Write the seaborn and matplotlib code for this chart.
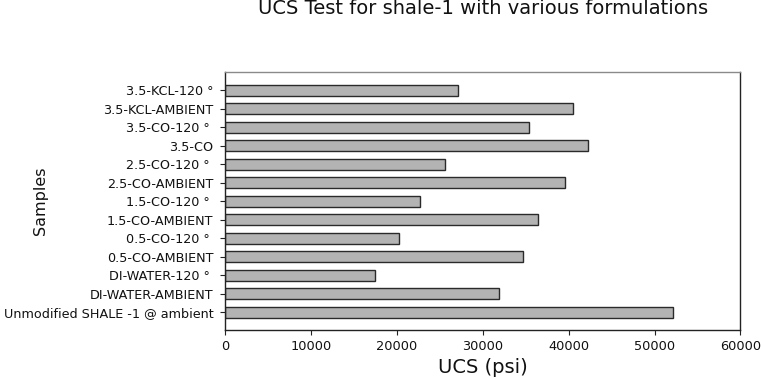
import matplotlib
matplotlib.use("Agg")
import matplotlib.pyplot as plt
import seaborn as sns
import pandas as pd

samples = [
    "3.5-KCL-120 °",
    "3.5-KCL-AMBIENT",
    "3.5-CO-120 ° ",
    "3.5-CO",
    "2.5-CO-120 ° ",
    "2.5-CO-AMBIENT",
    "1.5-CO-120 ° ",
    "1.5-CO-AMBIENT",
    "0.5-CO-120 ° ",
    "0.5-CO-AMBIENT",
    "DI-WATER-120 ° ",
    "DI-WATER-AMBIENT",
    "Unmodified SHALE -1 @ ambient",
]
ucs = [27100, 40500, 35400, 42200, 25600, 39600, 22650, 36400,
       20250, 34650, 17400, 31900, 52200]
xticks = [0, 10000, 20000, 30000, 40000, 50000, 60000]

df = pd.DataFrame({"Samples": samples, "UCS": ucs})

sns.set_theme(style="white")
plt.rcParams["font.family"] = ["DejaVu Sans"]

fig = plt.figure(figsize=(7.61, 3.79), dpi=100)
ax = fig.add_axes([0.296, 0.1293, 0.677, 0.681])

sns.barplot(data=df, x="UCS", y="Samples", orient="h", order=samples,
            color="#b3b3b3", saturation=1, width=0.6,
            edgecolor="#2a2a2a", linewidth=1.0, ax=ax)

ax.set_xlim(0, 60000)
ax.set_ylim(12.96, -1.0)
ax.set_xticks(xticks)
ax.set_xticklabels([str(t) for t in xticks], fontsize=9.3)
ax.tick_params(axis="y", labelsize=9.2, length=3.5, width=0.8, color="#222", pad=5, direction="out", left=True)
ax.tick_params(axis="x", length=3.5, width=0.8, color="#222", pad=4, direction="out", bottom=True)
for lab in ax.get_yticklabels() + ax.get_xticklabels():
    lab.set_color("#111")

for side in ["left", "bottom", "right"]:
    ax.spines[side].set_visible(True)
    ax.spines[side].set_color("#222")
    ax.spines[side].set_linewidth(1.0)
ax.spines["top"].set_visible(True)
ax.spines["top"].set_color("#8a8a8a")
ax.spines["top"].set_linewidth(1.0)

ax.set_xlabel("UCS (psi)", fontsize=14, color="#111", labelpad=3)
ax.set_ylabel("Samples", fontsize=11.5, color="#111")
ax.yaxis.set_label_coords(-0.344, 0.5)
ax.set_title("UCS Test for shale-1 with various formulations", fontsize=14, color="#111", pad=41.5)

fig.savefig("out.png", dpi=100)
